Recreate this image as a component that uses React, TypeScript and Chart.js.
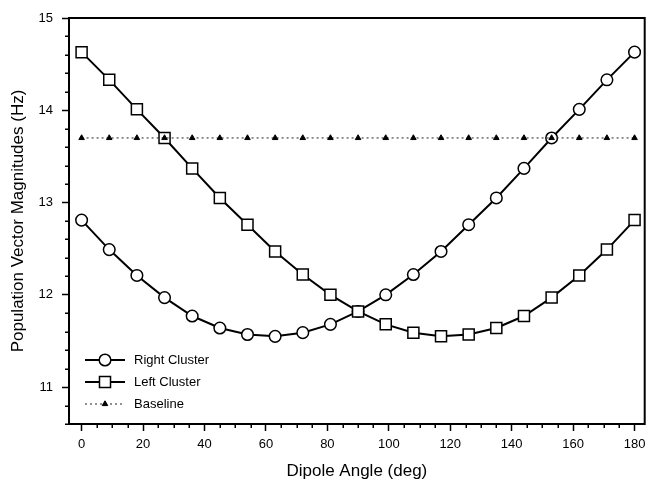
import React, { useEffect, useRef } from 'react';
import { Chart, registerables } from 'chart.js';

Chart.register(...registerables);

const FONT = '"Liberation Sans", Arial, Helvetica, sans-serif';

const angles = [0, 9, 18, 27, 36, 45, 54, 63, 72, 81, 90, 99, 108, 117, 126, 135, 144, 153, 162, 171, 180];
const rightCluster = [12.81, 12.49, 12.21, 11.97, 11.77, 11.64, 11.57, 11.55, 11.59, 11.68, 11.82, 12.0, 12.22, 12.47, 12.76, 13.05, 13.37, 13.7, 14.01, 14.33, 14.63];
const leftCluster = [14.63, 14.33, 14.01, 13.7, 13.37, 13.05, 12.76, 12.47, 12.22, 12.0, 11.82, 11.68, 11.59, 11.55, 11.57, 11.64, 11.77, 11.97, 12.21, 12.49, 12.81];
const baseline = [13.7, 13.7, 13.7, 13.7, 13.7, 13.7, 13.7, 13.7, 13.7, 13.7, 13.7, 13.7, 13.7, 13.7, 13.7, 13.7, 13.7, 13.7, 13.7, 13.7, 13.7];
const seriesLabels = ['Right Cluster', 'Left Cluster', 'Baseline'];

const xMajorTicks = [0, 20, 40, 60, 80, 100, 120, 140, 160, 180];
const xMinorTicks = [5, 10, 15, 25, 30, 35, 45, 50, 55, 65, 70, 75, 85, 90, 95, 105, 110, 115, 125, 130, 135, 145, 150, 155, 165, 170, 175];
const yMajorTicks = [11, 12, 13, 14, 15];
const yMinorTicks = [10.6, 10.8, 11.2, 11.4, 11.6, 11.8, 12.2, 12.4, 12.6, 12.8, 13.2, 13.4, 13.6, 13.8, 14.2, 14.4, 14.6, 14.8];

const toPoints = (vals: number[]) => vals.map((y, i) => ({ x: angles[i], y }));

function drawMarker(ctx: CanvasRenderingContext2D, style: string, x: number, y: number, r: number) {
  ctx.beginPath();
  if (style === 'circle') {
    ctx.arc(x, y, r, 0, Math.PI * 2);
  } else if (style === 'rect') {
    const s = Math.SQRT1_2 * r;
    ctx.rect(x - s, y - s, 2 * s, 2 * s);
  } else if (style === 'triangle') {
    let rad = 0;
    ctx.moveTo(x + Math.sin(rad) * r, y - Math.cos(rad) * r);
    rad += (2 * Math.PI) / 3;
    ctx.lineTo(x + Math.sin(rad) * r, y - Math.cos(rad) * r);
    rad += (2 * Math.PI) / 3;
    ctx.lineTo(x + Math.sin(rad) * r, y - Math.cos(rad) * r);
    ctx.closePath();
  }
}

const framePlugin = {
  id: 'frameAndMinor',
  afterDraw(chart: any) {
    const { ctx, chartArea } = chart;
    const xs = chart.scales.x;
    const ys = chart.scales.y;
    ctx.save();
    ctx.strokeStyle = '#000';
    ctx.lineWidth = 2;
    ctx.beginPath();
    ctx.moveTo(chartArea.left - 1, chartArea.top);
    ctx.lineTo(chartArea.right, chartArea.top);
    ctx.lineTo(chartArea.right, chartArea.bottom + 1);
    ctx.stroke();
    ctx.lineWidth = 1.5;
    ctx.beginPath();
    xMinorTicks.forEach((v) => {
      const px = Math.round(xs.getPixelForValue(v)) + 0.25;
      ctx.moveTo(px, chartArea.bottom);
      ctx.lineTo(px, chartArea.bottom + 4);
    });
    yMinorTicks.forEach((v) => {
      const py = Math.round(ys.getPixelForValue(v)) + 0.25;
      ctx.moveTo(chartArea.left, py);
      ctx.lineTo(chartArea.left - 4, py);
    });
    ctx.stroke();

    const items = chart.data.datasets;
    const rowsY = [360, 382, 404];
    items.forEach((ds: any, i: number) => {
      const y = rowsY[i];
      ctx.save();
      ctx.strokeStyle = ds.borderColor;
      ctx.lineWidth = ds.borderWidth;
      ctx.setLineDash(ds.borderDash || []);
      ctx.beginPath();
      ctx.moveTo(85, y);
      ctx.lineTo(125, y);
      ctx.stroke();
      ctx.setLineDash([]);
      drawMarker(ctx, ds.pointStyle, 105, y, ds.pointRadius);
      ctx.fillStyle = ds.pointBackgroundColor;
      ctx.fill();
      ctx.lineWidth = ds.pointBorderWidth;
      ctx.strokeStyle = ds.pointBorderColor;
      ctx.stroke();
      ctx.fillStyle = '#000';
      ctx.font = `13px ${FONT}`;
      ctx.textBaseline = 'middle';
      ctx.textAlign = 'left';
      ctx.fillText(ds.label, 134, y);
      ctx.restore();
    });
    ctx.restore();
  },
};

export default function App() {
  const ref = useRef<HTMLCanvasElement>(null);
  useEffect(() => {
    document.body.style.margin = '0';
    const chart = new Chart(ref.current as HTMLCanvasElement, {
      type: 'line',
      data: {
        datasets: [
          {
            label: seriesLabels[0],
            data: toPoints(rightCluster),
            borderColor: '#000',
            borderWidth: 2,
            pointStyle: 'circle',
            pointRadius: 5.8,
            pointBorderWidth: 1.5,
            pointBackgroundColor: '#fff',
            pointBorderColor: '#000',
            tension: 0,
            order: 3,
          },
          {
            label: seriesLabels[1],
            data: toPoints(leftCluster),
            borderColor: '#000',
            borderWidth: 2,
            pointStyle: 'rect',
            pointRadius: 7.8,
            pointBorderWidth: 1.5,
            pointBackgroundColor: '#fff',
            pointBorderColor: '#000',
            tension: 0,
            order: 2,
          },
          {
            label: seriesLabels[2],
            data: toPoints(baseline),
            borderColor: '#222',
            borderWidth: 1,
            borderDash: [2, 3],
            pointStyle: 'triangle',
            pointRadius: 3.2,
            pointBorderWidth: 1,
            pointBackgroundColor: '#000',
            pointBorderColor: '#000',
            tension: 0,
            order: 1,
          },
        ] as any,
      },
      options: {
        responsive: false,
        animation: false,
        devicePixelRatio: 1,
        layout: { padding: { top: 18, right: 2, bottom: 0, left: 0 } },
        plugins: { legend: { display: false }, tooltip: { enabled: false } },
        scales: {
          x: {
            type: 'linear',
            min: -4.1,
            max: 183.3,
            afterBuildTicks: (s: any) => {
              s.ticks = xMajorTicks.map((v) => ({ value: v }));
            },
            afterFit: (s: any) => {
              s.height = 62;
              s.paddingLeft = 0;
              s.paddingRight = 0;
            },
            ticks: {
              autoSkip: false,
              maxRotation: 0,
              padding: 6,
              color: '#000',
              font: { family: FONT, size: 13 },
            },
            grid: {
              drawOnChartArea: false,
              drawTicks: true,
              tickLength: 7,
              tickWidth: 1.5,
              tickColor: '#000',
              color: '#000',
            },
            border: { display: true, color: '#000', width: 2 },
            title: {
              display: true,
              text: 'Dipole Angle (deg)',
              color: '#000',
              font: { family: FONT, size: 17 },
              padding: { top: 0, bottom: 4 },
            },
          },
          y: {
            type: 'linear',
            min: 10.6,
            max: 15,
            afterBuildTicks: (s: any) => {
              s.ticks = yMajorTicks.map((v) => ({ value: v }));
            },
            afterFit: (s: any) => {
              s.width = 69;
              s.paddingTop = 0;
              s.paddingBottom = 0;
            },
            ticks: {
              padding: 9,
              color: '#000',
              font: { family: FONT, size: 13 },
            },
            grid: {
              drawOnChartArea: false,
              drawTicks: true,
              tickLength: 7,
              tickWidth: 1.5,
              tickColor: '#000',
              color: '#000',
            },
            border: { display: true, color: '#000', width: 2 },
            title: {
              display: true,
              text: 'Population Vector Magnitudes (Hz)',
              color: '#000',
              font: { family: FONT, size: 17 },
              padding: { top: 8, bottom: 0 },
            },
          },
        },
      } as any,
      plugins: [framePlugin],
    });
    return () => chart.destroy();
  }, []);
  return (
    <div style={{ width: 654, height: 486, background: '#fff' }}>
      <canvas ref={ref} width={654} height={486} style={{ display: 'block' }} />
    </div>
  );
}
